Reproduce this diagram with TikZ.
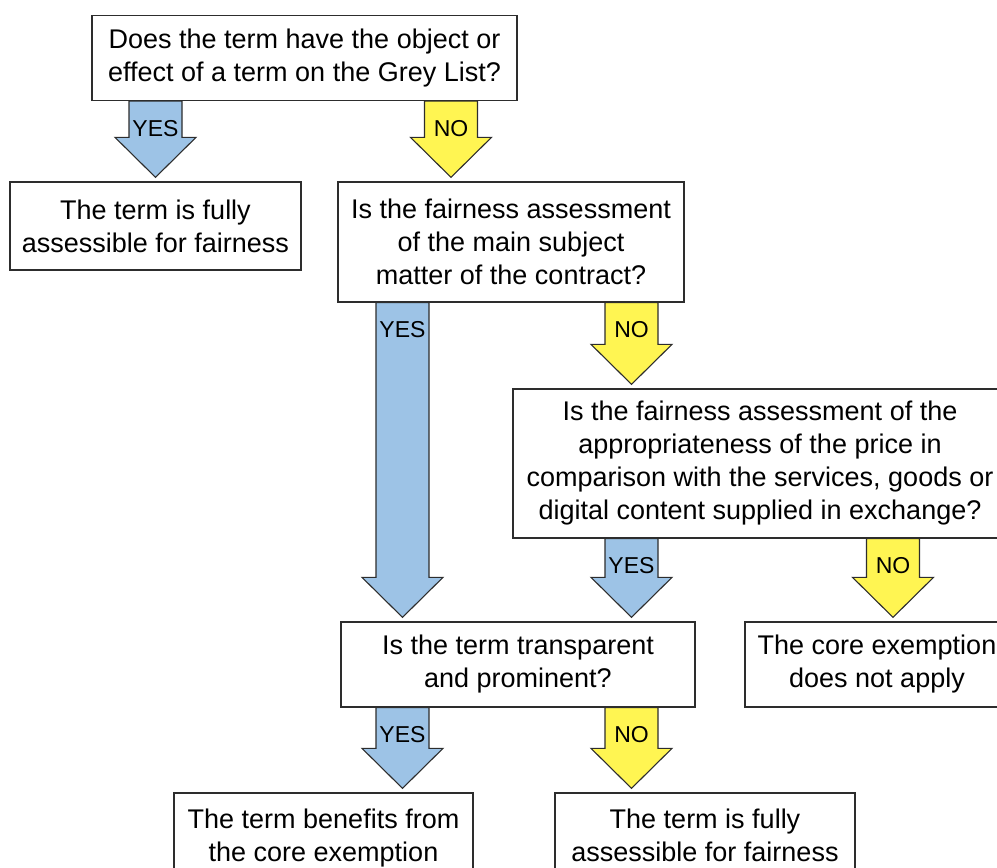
\documentclass[tikz,border=0pt]{standalone}
\usepackage{fontspec}
\setmainfont{Liberation Sans}
\usetikzlibrary{calc,backgrounds}
\definecolor{yesblue}{RGB}{157,195,230}
\definecolor{noyellow}{RGB}{255,245,82}
\definecolor{edgegray}{RGB}{45,45,45}
\begin{document}
\begin{tikzpicture}[x=1pt,y=-1pt,
  box/.style={draw=edgegray, line width=1.3pt, fill=white, align=center, inner sep=0pt,
    font=\fontsize{27}{33}\selectfont},
  lbl/.style={inner sep=0pt, font=\fontsize{23}{27}\selectfont},
  fat/.style={draw=edgegray, line width=1.1pt, line join=miter,
    to path={let \p1=(\tikztostart), \p2=(\tikztotarget) in
      (\x1-26.5pt,\y1) -- (\x1+26.5pt,\y1) -- (\x1+26.5pt,\y2+44pt) -- (\x1+40.5pt,\y2+44pt)
      -- (\x1,\y2+4pt) -- (\x1-40.5pt,\y2+44pt) -- (\x1-26.5pt,\y2+44pt) -- cycle
      node[lbl] at (\x1,\y1-27pt) {#1}}},
  yes/.style={fat=YES, fill=yesblue},
  no/.style={fat=NO, fill=noyellow}]
\useasboundingbox (0,0) rectangle (997,868);
\begin{scope}
\clip (0,0) rectangle (997,868);
\node[box, minimum width=425pt, minimum height=85pt] (q1) at (304.5,58)
  {Does the term have the object or\\effect of a term on the Grey List?};
\node[box, minimum width=291pt, minimum height=88pt] (a1) at (155.5,226)
  {The term is fully\\assessible for fairness};
\node[box, minimum width=346pt, minimum height=120pt] (q2) at (511,242)
  {Is the fairness assessment\\of the main subject\\matter of the contract?};
\node[box, minimum width=494pt, minimum height=149pt] (q3) at (760,463.5)
  {Is the fairness assessment of the\\appropriateness of the price in\\comparison with the services, goods or\\digital content supplied in exchange?};
\node[box, minimum width=354pt, minimum height=85pt] (q4) at (518,664.5)
  {Is the term transparent\\and prominent?};
\node[box, minimum width=264pt, minimum height=85pt] (a2) at (877,664.5)
  {The core exemption\\does not apply};
\node[box, minimum width=299pt, minimum height=90pt] (a3) at (323.5,838)
  {The term benefits from\\the core exemption};
\node[box, minimum width=300pt, minimum height=84pt] (a4) at (705,835)
  {The term is fully\\assessible for fairness};
\end{scope}
\coordinate (x1) at (155.5,0);
\coordinate (x2) at (451,0);
\coordinate (x3) at (402.5,0);
\coordinate (x4) at (631.5,0);
\coordinate (x5) at (893,0);
\begin{scope}[on background layer]
\draw[yes] (q1.south -| x1) to (a1.north -| x1);
\draw[no]  (q1.south -| x2) to (q2.north -| x2);
\draw[yes] (q2.south -| x3) to (q4.north -| x3);
\draw[no]  (q2.south -| x4) to (q3.north -| x4);
\draw[yes] (q3.south -| x4) to (q4.north -| x4);
\draw[no]  (q3.south -| x5) to (a2.north -| x5);
\draw[yes] (q4.south -| x3) to (a3.north -| x3);
\draw[no]  (q4.south -| x4) to (a4.north -| x4);
\end{scope}
\end{tikzpicture}
\end{document}
